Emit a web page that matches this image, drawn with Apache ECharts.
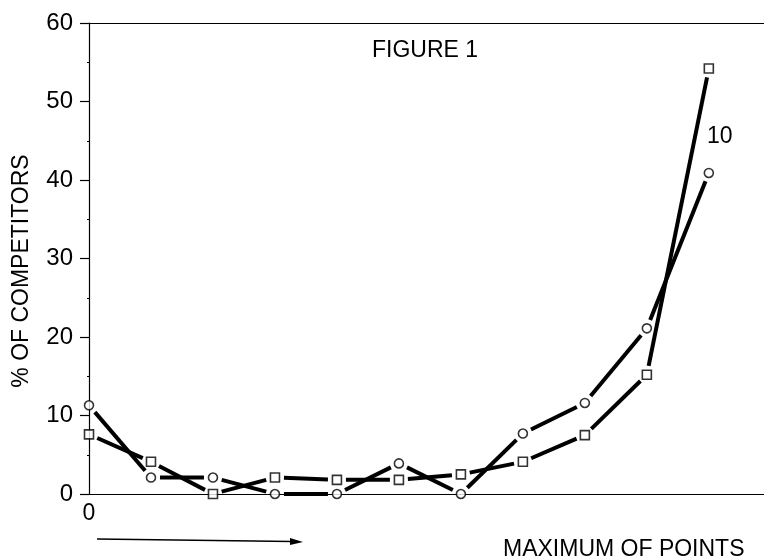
<!DOCTYPE html>
<html>
<head>
<meta charset="utf-8">
<script src="https://cdn.jsdelivr.net/npm/echarts@6/dist/echarts.min.js"></script>
<style>html,body{margin:0;padding:0;background:#fff}#c{width:764px;height:560px}</style>
</head>
<body>
<div id="c"></div>
<script>
var xValues = [0, 1, 2, 3, 4, 5, 6, 7, 8, 9, 10];
var circleValues = [11.3, 2.1, 2.1, 0, 0, 3.9, 0, 7.7, 11.6, 21.1, 40.9];
var squareValues = [7.6, 4.1, 0, 2.1, 1.8, 1.8, 2.5, 4.1, 7.5, 15.2, 54.2];
var yTicks = [0, 10, 20, 30, 40, 50, 60];
var xTickLabels = ['0'];

function pairs(vals) { return xValues.map(function (x, i) { return [x, vals[i]]; }); }
function segments(vals) {
  var out = [];
  for (var i = 0; i < xValues.length - 1; i++) out.push([xValues[i], vals[i], xValues[i + 1], vals[i + 1]]);
  return out;
}

var FONT = 'Liberation Sans, Arial, sans-serif';
var GAP = 9;
var chart = echarts.init(document.getElementById('c'), null, { renderer: 'canvas' });

function renderSeg(params, api) {
  var p0 = api.coord([api.value(0), api.value(1)]);
  var p1 = api.coord([api.value(2), api.value(3)]);
  var dx = p1[0] - p0[0], dy = p1[1] - p0[1];
  var len = Math.sqrt(dx * dx + dy * dy);
  if (len <= 2 * GAP) return null;
  var ux = dx / len, uy = dy / len;
  return {
    type: 'line',
    shape: { x1: p0[0] + ux * GAP, y1: p0[1] + uy * GAP, x2: p1[0] - ux * GAP, y2: p1[1] - uy * GAP },
    style: { stroke: '#000', lineWidth: 4, lineCap: 'butt' }
  };
}

function seriesSet(name, vals, shape, size) {
  return [
    { name: name, type: 'custom', data: segments(vals), renderItem: renderSeg, z: 2,
      encode: { x: [0, 2], y: [1, 3] }, clip: false, animation: false },
    { name: name + 'mk', type: 'scatter', data: pairs(vals), symbol: shape, symbolSize: size, z: 6,
      itemStyle: { color: '#fff', borderColor: '#000', borderWidth: 1.6 }, animation: false }
  ];
}

chart.setOption({
  animation: false,
  backgroundColor: '#fff',
  grid: { left: 89, top: 23, bottom: 66, right: 0, outerBoundsMode: 'none', containLabel: false },
  xAxis: [{
    type: 'value', min: 0, max: 10.89, interval: 1, position: 'bottom', z: 5,
    axisLine: { show: true, onZero: false, lineStyle: { color: '#000', width: 1.2 } },
    axisTick: { show: false },
    splitLine: { show: false },
    axisLabel: { show: true, margin: 8, color: '#000', fontSize: 23, fontFamily: FONT, showMaxLabel: false,
      formatter: function (v) { return xTickLabels.indexOf(String(v)) >= 0 ? String(v) : ''; } }
  }, {
    type: 'value', min: 0, max: 10.89, position: 'top', z: 5,
    axisLine: { show: true, onZero: false, lineStyle: { color: '#000', width: 1.2 } },
    axisTick: { show: false }, axisLabel: { show: false }, splitLine: { show: false }
  }],
  yAxis: {
    type: 'value', min: yTicks[0], max: yTicks[yTicks.length - 1], interval: 10, z: 5,
    axisLine: { show: true, onZero: false, lineStyle: { color: '#000', width: 1.2 } },
    axisTick: { show: true, length: 9, lineStyle: { color: '#000', width: 1.2 } },
    minorTick: { show: true, splitNumber: 2, length: 2, lineStyle: { color: '#000', width: 1 } },
    splitLine: { show: false },
    axisLabel: { margin: 16, color: '#000', fontSize: 24, fontFamily: FONT }
  },
  series: [].concat(
    seriesSet('circles', circleValues, 'circle', 9),
    seriesSet('squares', squareValues, 'rect', 9)
  ),
  graphic: [
    { type: 'text', x: 372, y: 51, style: { text: 'FIGURE 1', fill: '#000', font: '23px ' + FONT, textVerticalAlign: 'middle' } },
    { type: 'text', x: 707, y: 137, style: { text: '10', fill: '#000', font: '23px ' + FONT, textVerticalAlign: 'middle' } },
    { type: 'text', x: 503, y: 550, style: { text: 'MAXIMUM OF POINTS', fill: '#000', font: '23px ' + FONT, textVerticalAlign: 'middle' } },
    { type: 'text', x: 22, y: 271, rotation: Math.PI / 2,
      style: { text: '% OF COMPETITORS', fill: '#000', font: '23px ' + FONT, textAlign: 'center', textVerticalAlign: 'middle' } },
    { type: 'line', shape: { x1: 97, y1: 539, x2: 292, y2: 541.5 }, style: { stroke: '#000', lineWidth: 1.5 } },
    { type: 'polygon', shape: { points: [[290, 538], [303, 542], [290, 545]] }, style: { fill: '#000' } }
  ]
});
</script>
</body>
</html>
